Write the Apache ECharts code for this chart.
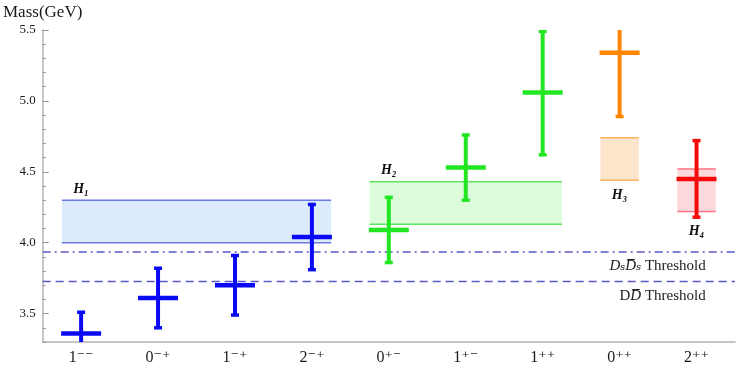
<!DOCTYPE html>
<html><head><meta charset="utf-8">
<script src="https://cdn.jsdelivr.net/npm/echarts@6/dist/echarts.min.js"></script>
<style>html,body{margin:0;padding:0;background:#fff}#c{width:747px;height:368px}</style>
</head><body><div id="c"></div>
<script>
// ---- data ----
const categories = ['1\u207B\u207B','0\u207B\u207A','1\u207B\u207A','2\u207B\u207A','0\u207A\u207B','1\u207A\u207B','1\u207A\u207A','0\u207A\u207A','2\u207A\u207A'];
const massCentral = [3.36, 3.61, 3.70, 4.04, 4.09, 4.53, 5.06, 5.34, 4.45];
const massLower   = [3.21, 3.40, 3.49, 3.81, 3.86, 4.30, 4.62, 4.89, 4.18];
const massUpper   = [3.51, 3.82, 3.91, 4.27, 4.32, 4.76, 5.49, 5.79, 4.72];
const bandNames = ['H\u2081','H\u2082','H\u2083','H\u2084'];
const bandFrom  = [-0.25, 3.75, 6.75, 7.75];
const bandTo    = [3.25, 6.25, 7.25, 8.25];
const bandLow   = [4.00, 4.13, 4.44, 4.22];
const bandHigh  = [4.30, 4.43, 4.74, 4.52];
const thresholdValues = [3.935, 3.727];
const yMajorTicks = [3.5, 4.0, 4.5, 5.0, 5.5];

// ---- styles ----
const crossColors = ['#0a0af5','#0a0af5','#0a0af5','#0a0af5','#22e622','#22e622','#22e622','#ff8400','#f50a0a'];
const bandFill   = ['#dcebfd','#dcfcdc','#fee6cd','#fdd8dc'];
const bandStroke = ['#6a78e8','#5ee65e','#ffb35e','#ff7480'];
const lineColor = '#5a5ac6';
const serif = "'Liberation Serif','DejaVu Serif',serif";

const chart = echarts.init(document.getElementById('c'));

function renderBand(params, api) {
  const i = params.dataIndex;
  const p0 = api.coord([api.value(0), api.value(3)]);
  const p1 = api.coord([api.value(1), api.value(2)]);
  const w = p1[0] - p0[0];
  const above = i < 2;
  const lx = above ? api.coord([api.value(0) + 0.25, 0])[0] : (p0[0] + p1[0]) / 2;
  const ly = above ? p0[1] - 11 : p1[1] + (i === 2 ? 15 : 20);
  return {type:'group', children:[
    {type:'rect', shape:{x:p0[0], y:p0[1], width:w, height:p1[1]-p0[1]}, style:{fill:bandFill[i]}},
    {type:'line', shape:{x1:p0[0], y1:p0[1], x2:p1[0], y2:p0[1]}, style:{stroke:bandStroke[i], lineWidth:1.5}},
    {type:'line', shape:{x1:p0[0], y1:p1[1], x2:p1[0], y2:p1[1]}, style:{stroke:bandStroke[i], lineWidth:1.5}},
    {type:'text', style:{text:bandNames[i], x:lx, y:ly, align:'center', verticalAlign:'middle',
      font:"italic bold 14px " + serif, fill:'#111'}}
  ]};
}

function renderCross(params, api) {
  const i = params.dataIndex;
  const x = api.value(0);
  const pc = api.coord([x, api.value(1)]);
  const pl = api.coord([x, api.value(2)]);
  const ph = api.coord([x, api.value(3)]);
  const col = crossColors[i];
  return {type:'group', children:[
    {type:'line', shape:{x1:pc[0], y1:pl[1], x2:pc[0], y2:ph[1]}, style:{stroke:col, lineWidth:4}},
    {type:'line', shape:{x1:pc[0]-4, y1:pl[1], x2:pc[0]+4, y2:pl[1]}, style:{stroke:col, lineWidth:3.5}},
    {type:'line', shape:{x1:pc[0]-4, y1:ph[1], x2:pc[0]+4, y2:ph[1]}, style:{stroke:col, lineWidth:3.5}},
    {type:'line', shape:{x1:pc[0]-20, y1:pc[1], x2:pc[0]+20, y2:pc[1]}, style:{stroke:col, lineWidth:4.5}}
  ]};
}

function renderThreshold(params, api) {
  const i = params.dataIndex;
  const v = api.value(0);
  const a = api.coord([-0.5, v]);
  const b = api.coord([8.5, v]);
  const tx = api.coord([8.12, v])[0];
  const text = i === 0
    ? '{i|D\u209B}{i|D\u0305\u209B} Threshold'
    : 'D{i|D\u0305} Threshold';
  return {type:'group', children:[
    {type:'line', shape:{x1:a[0], y1:a[1], x2:b[0], y2:b[1]},
      style:{stroke:lineColor, lineWidth:1.5, lineDash: i === 0 ? [8,4,2,4] : [8,5]}},
    {type:'text', style:{text:text, x:tx, y:a[1] + 14.5, align:'right', verticalAlign:'middle',
      font:"15px " + serif, fill:'#222',
      rich:{i:{fontFamily:serif, fontStyle:'italic', fontSize:15, fill:'#222'}}}}
  ]};
}

const option = {
  animation: false,
  backgroundColor: '#fff',
  grid: {left:42, right:12, top:30, bottom:26, containLabel:false},
  xAxis: [
    {type:'category', data:categories, boundaryGap:true,
      axisLine:{onZero:false, lineStyle:{color:'#b4b4b4', width:1.5}},
      axisTick:{alignWithLabel:true, inside:true, length:5, lineStyle:{color:'#999'}},
      axisLabel:{color:'#1a1a1a', fontFamily:serif, fontSize:16, margin:8},
      splitLine:{show:false}},
    {type:'value', min:-0.5, max:8.5, show:false, axisLine:{onZero:false}}
  ],
  yAxis: [
    {type:'value', min:3.3, max:5.5, interval:0.1, position:'left',
      name:'Mass(GeV)', nameLocation:'end', nameGap:9,
      nameTextStyle:{color:'#1a1a1a', fontFamily:serif, fontSize:17, align:'center'},
      axisLine:{show:true, onZero:false, lineStyle:{color:'#b4b4b4', width:1.5}},
      axisTick:{inside:true, length:3, lineStyle:{color:'#999'}},
      axisLabel:{color:'#1a1a1a', fontFamily:serif, fontSize:13, margin:7,
        formatter: v => (Math.abs(v*2 - Math.round(v*2)) < 1e-6 ? v.toFixed(1) : '')},
      splitLine:{show:false}},
    {type:'value', min:3.3, max:5.5, position:'left',
      axisLine:{show:false, onZero:false},
      axisTick:{show:true, inside:true, length:6, customValues:yMajorTicks, lineStyle:{color:'#999'}},
      axisLabel:{show:false},
      splitLine:{show:false}}
  ],
  series: [
    {type:'custom', xAxisIndex:1, yAxisIndex:0, renderItem:renderBand, z:1,
      data: bandNames.map((n,i) => [bandFrom[i], bandTo[i], bandLow[i], bandHigh[i]])},
    {type:'custom', xAxisIndex:1, yAxisIndex:0, renderItem:renderThreshold, z:2,
      data: thresholdValues.map(v => [v])},
    {type:'custom', xAxisIndex:1, yAxisIndex:0, renderItem:renderCross, z:3, clip:true,
      data: categories.map((c,i) => [i, massCentral[i], massLower[i], massUpper[i]])}
  ]
};
chart.setOption(option);
</script>
</body></html>
